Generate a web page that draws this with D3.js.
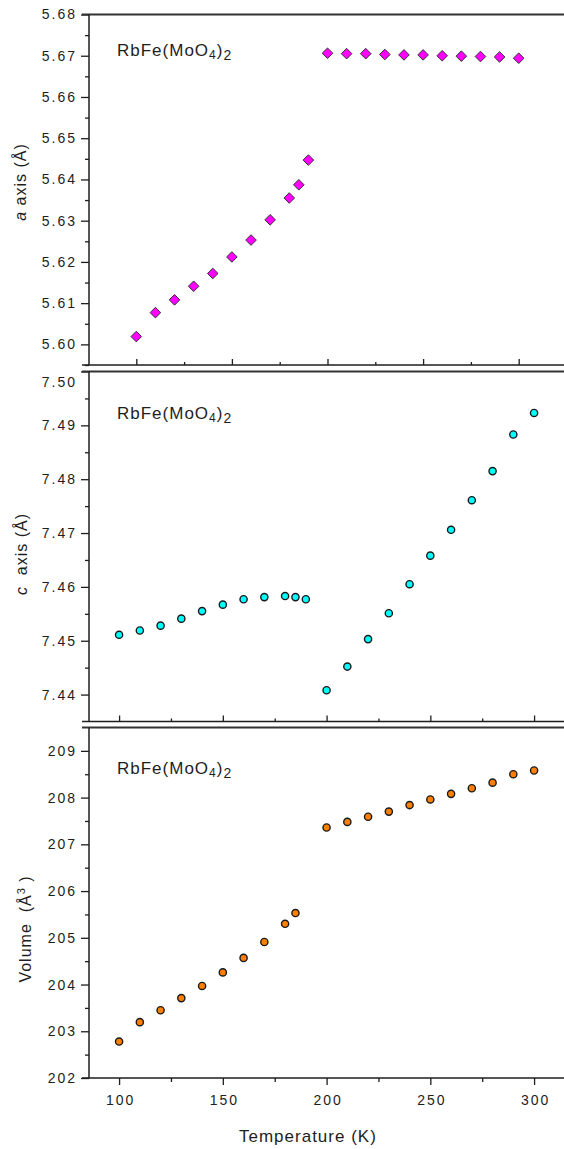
<!DOCTYPE html>
<html><head><meta charset="utf-8">
<script src="https://cdn.jsdelivr.net/npm/d3@7"></script>
<style>body{margin:0;background:#fff}svg{display:block}</style>
</head><body>
<svg id="c" width="564" height="1149"></svg>
<script>
// ---- data ----
const tempLowA = [100,110,120,130,140,150,160,170,180,185,190];
const aLow     = [5.6019,5.6077,5.6108,5.6141,5.6172,5.6212,5.6253,5.6302,5.6355,5.6387,5.6447];
const tempHigh = [200,210,220,230,240,250,260,270,280,290,300];
const aHigh    = [5.6706,5.6705,5.6705,5.6703,5.6702,5.6702,5.6700,5.6699,5.6698,5.6697,5.6694];
const tempLowC = [100,110,120,130,140,150,160,170,180,185,190];
const cLow     = [7.4511,7.4519,7.4528,7.4541,7.4555,7.4567,7.4577,7.4581,7.4583,7.4581,7.4577];
const cHigh    = [7.4408,7.4452,7.4503,7.4551,7.4605,7.4658,7.4706,7.4761,7.4815,7.4883,7.4923];
const tempLowV = [100,110,120,130,140,150,160,170,180,185];
const vLow     = [202.78,203.195,203.45,203.71,203.97,204.26,204.57,204.91,205.30,205.53];
const vHigh    = [207.36,207.48,207.59,207.70,207.84,207.96,208.08,208.20,208.32,208.50,208.58];

const aTicks = [5.60,5.61,5.62,5.63,5.64,5.65,5.66,5.67,5.68];
const cTicks = [7.44,7.45,7.46,7.47,7.48,7.49,7.50];
const vTicks = [202,203,204,205,206,207,208,209];
const tTicks = [100,150,200,250,300];
const tMinor = [125,175,225,275];

// ---- layout ----
const FONT = '"Liberation Sans", Arial, Helvetica, sans-serif';
const INK = '#1e1e1e';
const X0 = 89;
const svg = d3.select('#c');

const xTop = d3.scaleLinear([75,325],[88.5,566.5]);
const xBot = d3.scaleLinear([85.5,315],[89,565.2]);

const panels = [
  { x:xTop, y:d3.scaleLinear([5.595,5.68],[365,14.5]), ticks:aTicks,
    minor:d3.range(5.595,5.68,0.01).map(v=>+v.toFixed(3)), fmt:d3.format('.2f'),
    series:[{t:tempLowA,v:aLow},{t:tempHigh,v:aHigh}], shape:'diamond', fill:'#ff00ff',
    outer:false, lblBase:55.5, ylab:{x:26,y:182,parts:[['a','italic'],[' axis (Å)','normal']]} },
  { x:xBot, y:d3.scaleLinear([7.435,7.50],[721.5,371.5]), ticks:cTicks,
    minor:d3.range(7.445,7.50,0.01).map(v=>+v.toFixed(3)), fmt:d3.format('.2f'),
    series:[{t:tempLowC,v:cLow},{t:tempHigh,v:cHigh}], shape:'circle', fill:'#00ffff',
    outer:false, lblBase:418.5, nudgeTop:11, ylab:{x:27,y:554,parts:[['c','italic'],['  axis (Å)','normal']]} },
  { x:xBot, y:d3.scaleLinear([202,209.5],[1078,727.5]), ticks:vTicks,
    minor:d3.range(202.5,209.5,1), fmt:d3.format('d'),
    series:[{t:tempLowV,v:vLow},{t:tempHigh,v:vHigh}], shape:'circle', fill:'#ff8000',
    outer:true, lblBase:774, ylab:{x:31,y:929,vol:true} }
];

function styleAxis(ga){
  ga.select('.domain').remove();
  ga.selectAll('line').attr('stroke',INK).attr('stroke-width',1.3);
  ga.selectAll('text').attr('font-family',FONT).attr('font-size',14)
    .attr('letter-spacing',2).attr('fill',INK);
}

panels.forEach(p=>{
  const g = svg.append('g');
  const [yb,yt] = p.y.range();

  // y axis
  const ga = g.append('g').attr('transform',`translate(${X0},0)`)
    .call(d3.axisLeft(p.y).tickValues(p.ticks).tickFormat(p.fmt).tickSize(8).tickPadding(4).tickSizeOuter(0));
  styleAxis(ga);
  if(p.nudgeTop){
    ga.selectAll('.tick').filter(d=>d===p.ticks[p.ticks.length-1]).select('text')
      .attr('transform',`translate(0,${p.nudgeTop})`);
  }
  const gm = g.append('g').attr('transform',`translate(${X0},0)`)
    .call(d3.axisLeft(p.y).tickValues(p.minor).tickFormat('').tickSize(4).tickSizeOuter(0));
  styleAxis(gm);

  // x axis ticks
  if(p.outer){
    const gx = g.append('g').attr('transform',`translate(0,${yb})`)
      .call(d3.axisBottom(p.x).tickValues(tTicks).tickFormat(d3.format('d')).tickSize(7).tickPadding(10).tickSizeOuter(0));
    styleAxis(gx);
    gx.selectAll('text').attr('dx',1);
    const gxm = g.append('g').attr('transform',`translate(0,${yb})`)
      .call(d3.axisBottom(p.x).tickValues(tMinor).tickFormat('').tickSize(4).tickSizeOuter(0));
    styleAxis(gxm);
  } else {
    const gx = g.append('g').attr('transform',`translate(0,${yb})`)
      .call(d3.axisTop(p.x).tickValues(tTicks).tickFormat('').tickSize(6).tickSizeOuter(0));
    styleAxis(gx);
    const gxm = g.append('g').attr('transform',`translate(0,${yb})`)
      .call(d3.axisTop(p.x).tickValues(tMinor).tickFormat('').tickSize(3).tickSizeOuter(0));
    styleAxis(gxm);
  }

  // frame lines
  g.append('line').attr('x1',82).attr('x2',564).attr('y1',yt).attr('y2',yt)
    .attr('stroke','#333').attr('stroke-width',2);
  g.append('line').attr('x1',82).attr('x2',564).attr('y1',yb).attr('y2',yb)
    .attr('stroke',INK).attr('stroke-width',1.5);
  g.append('line').attr('x1',X0).attr('x2',X0).attr('y1',yt).attr('y2',yb)
    .attr('stroke',INK).attr('stroke-width',1.5);

  // points
  p.series.forEach(s=>{
    const pts = s.t.map((t,i)=>[t,s.v[i]]);
    if(p.shape==='diamond'){
      g.selectAll(null).data(pts).enter().append('path')
        .attr('d','M0,-5.3L5.3,0L0,5.3L-5.3,0Z')
        .attr('transform',d=>`translate(${p.x(d[0])},${p.y(d[1])})`)
        .attr('fill',p.fill).attr('stroke','#333').attr('stroke-width',1);
    } else {
      g.selectAll(null).data(pts).enter().append('circle')
        .attr('cx',d=>p.x(d[0])).attr('cy',d=>p.y(d[1])).attr('r',3.6)
        .attr('fill',p.fill).attr('stroke','#1a1a1a').attr('stroke-width',1.4);
    }
  });

  // compound label
  const t = g.append('text').attr('x',117).attr('y',p.lblBase)
    .attr('font-family',FONT).attr('font-size',17).attr('letter-spacing',1).attr('fill',INK);
  t.append('tspan').text('RbFe(MoO');
  t.append('tspan').attr('font-size',12).attr('dy',3).text('4');
  t.append('tspan').attr('dy',-3).text(')');
  t.append('tspan').attr('font-size',14).attr('dy',4).text('2');

  // y label
  const yl = g.append('text')
    .attr('transform',`translate(${p.ylab.x},${p.ylab.y}) rotate(-90)`)
    .attr('text-anchor','middle').attr('font-family',FONT).attr('font-size',16)
    .attr('letter-spacing',1).attr('fill',INK).style('white-space','pre');
  if(p.ylab.vol){
    yl.append('tspan').text('Volume  (Å');
    yl.append('tspan').attr('font-size',11).attr('dy',-6).text('3');
    yl.append('tspan').attr('dy',6).text(' )');
  } else {
    p.ylab.parts.forEach(([s,st])=>yl.append('tspan').attr('font-style',st).text(s));
  }
});

// x label
svg.append('text').attr('x',xBot(191)).attr('y',1141.5).attr('text-anchor','middle')
  .attr('font-family',FONT).attr('font-size',17).attr('letter-spacing',1).attr('fill',INK)
  .text('Temperature (K)');
</script>
</body></html>
